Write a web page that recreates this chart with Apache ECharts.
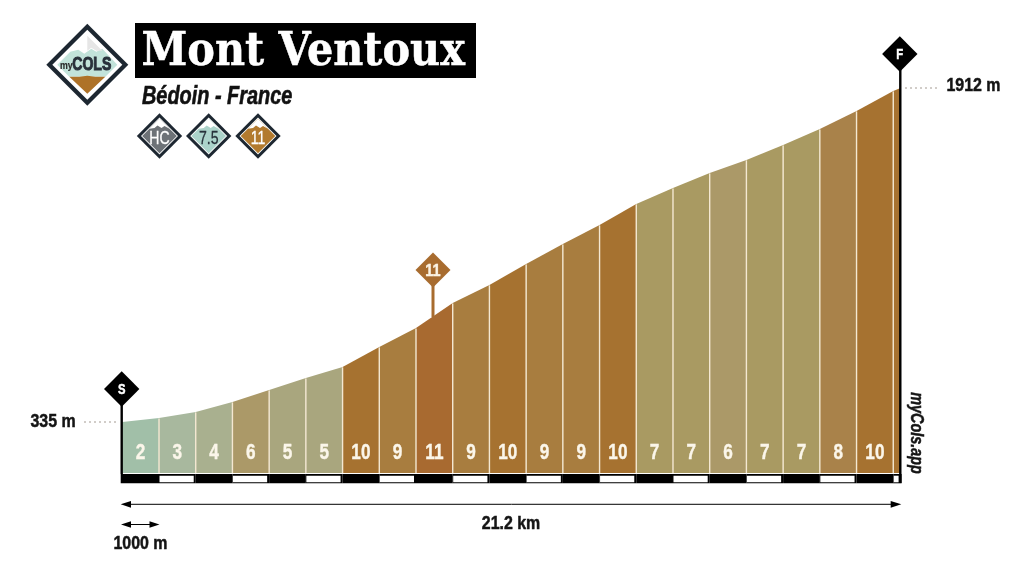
<!DOCTYPE html>
<html><head><meta charset="utf-8">
<style>html,body{margin:0;padding:0;background:#fff}#c{width:1024px;height:576px}</style>
<script src="https://cdn.jsdelivr.net/npm/echarts@6/dist/echarts.min.js"></script>
</head><body><div id="c"></div>
<script>
const title = 'Mont Ventoux';
const subtitle = 'Bédoin - France';
const kmMarks = [0,1,2,3,4,5,6,7,8,9,10,11,12,13,14,15,16,17,18,19,20,21,21.2];
const elevations = [335,354,382,429,486,543,595,689,779,897,982,1081,1175,1265,1364,1440,1511,1572,1643,1718,1803,1898,1912];
const gradients = [2,3,4,6,5,5,10,9,11,9,10,9,9,10,7,7,6,7,7,8,10,10];
const gradientLabels = ['2','3','4','6','5','5','10','9','11','9','10','9','9','10','7','7','6','7','7','8','10',''];
const badges = ['HC','7.5','11'];
const startLabel = '335 m', endLabel = '1912 m', distanceLabel = '21.2 km', unitLabel = '1000 m', brand = 'myCols.app';

const colorFor = {2:'#a1bfa8',3:'#a8b89e',4:'#a9b08f',5:'#a9a67e',6:'#ab9968',7:'#a99a62',8:'#a9824a',9:'#a87d3f',10:'#a67230',11:'#a86a30'};
const CREAM = '#f4e8d2', DARK = '#1d2731';
const SANS = '"Liberation Sans",sans-serif';

const segData = gradients.map((g,i)=>[kmMarks[i],kmMarks[i+1],elevations[i],elevations[i+1],g]);
const yMin = 94, yMax = 1994;

function diamond(cx,cy,r,fill,z){return {type:'polygon',z:z||10,shape:{points:[[cx,cy-r],[cx+r,cy],[cx,cy+r],[cx-r,cy]]},style:{fill}};}
function txt(x,y,text,size,fill,o){o=o||{};const sw=o.heavy===undefined?0.5:o.heavy;return {type:'text',z:o.z||20,x,y,rotation:o.rotation||0,scaleX:o.scaleX||1,
  style:{text,fill,stroke:sw?fill:null,lineWidth:sw,font:(o.style||'normal')+' '+(o.weight||'bold')+' '+size+'px '+(o.family||SANS),textAlign:o.align||'center',textVerticalAlign:'middle'}};}
function line(x1,y1,x2,y2,stroke,w,dash){return {type:'line',z:8,shape:{x1,y1,x2,y2},style:{stroke,lineWidth:w,lineDash:dash||null}};}
function tri(pts,fill){return {type:'polygon',z:9,shape:{points:pts},style:{fill}};}

function badge(cx,cy,label,fill,tc){
  return [diamond(cx,cy,22.7,DARK,10),diamond(cx,cy,18.5,'#ffffff',11),diamond(cx,cy,17.3,fill,12),
    {type:'polygon',z:13,shape:{points:[[cx,cy-17.3],[cx+10,cy-7.3],[cx+5,cy-10],[cx+2,cy-8],[cx-2,cy-10.5],[cx-5,cy-8],[cx-10,cy-7.3]]},style:{fill:'#ffffff'}},
    txt(cx,cy+2.5,label,19,tc,{scaleX:.74,weight:'normal',heavy:.3})];
}
function logo(){
  const cx=87.3,cy=64.7;
  return [diamond(cx,cy,41,DARK,10),diamond(cx,cy,35,'#ffffff',11),
    {type:'polygon',z:12,shape:{points:[[cx-30,cy],[cx-17,cy-13],[cx-9,cy-15],[cx-3,cy-11],[cx+4,cy-16],[cx+9,cy-13],[cx+15,cy-16],[cx+30,cy],[cx+18,cy+12],[cx-18,cy+12]]},style:{fill:'#c2e3da'}},
    {type:'polygon',z:13,shape:{points:[[cx,cy-29],[cx+15,cy-14],[cx+9,cy-14],[cx+4,cy-17],[cx,cy-14]]},style:{fill:'#e6e6e6'}},
    {type:'polygon',z:13,shape:{points:[[cx-18,cy+12],[cx-8,cy+12],[cx,cy+11],[cx+8,cy+12],[cx+18,cy+12],[cx,cy+29]]},style:{fill:'#ae7228'}},
    txt(cx-21,cy+1,'my',11,'#2a2a2a',{scaleX:.8,heavy:.2}),
    txt(cx+4.5,cy+.5,'COLS',19,'#28303a',{scaleX:.74,heavy:1})];
}

const graphics = [].concat(
  logo(),
  [{type:'rect',z:10,shape:{x:135,y:23,width:341,height:55},style:{fill:'#000'}},
   txt(141.5,53,title,46,'#ffffff',{family:'"DejaVu Serif",serif',align:'left',scaleX:.9,heavy:.5}),
   txt(142,96.5,subtitle,25.5,'#111',{style:'italic',align:'left',scaleX:.78,heavy:.6})],
  badge(159.5,136,badges[0],'#6d7277','#fff'),badge(208.7,136,badges[1],'#abd3ca','#27313a'),badge(258,136,badges[2],'#b27a2e','#fff'),
  [line(121.7,390,121.7,474,'#000',2.4),diamond(121.7,389,17.7,'#000'),txt(121.7,390,'S',15,'#fff',{scaleX:.75}),
   line(900.3,54,900.3,483,'#000',2.4),diamond(899.8,54,17.7,'#000'),txt(899.8,55,'F',15,'#fff',{scaleX:.75}),
   line(84,422,118,422,'#a39a92',1,[2,3]),line(905,88,938,88,'#a39a92',1,[2,3]),
   txt(53,422.2,startLabel,18.5,'#141414',{scaleX:.86}),txt(973.5,86,endLabel,18.5,'#141414',{scaleX:.86}),
   line(433,280,433,317,'#a86c2f',3),diamond(433,270,17.5,'#a86c2f'),txt(433,271,'11',17,'#fbf3e4',{scaleX:.85}),
   txt(916,433,brand,18,'#141414',{style:'italic',rotation:-Math.PI/2,scaleX:.8}),
   line(125,504.3,898,504.3,'#000',1),tri([[120.7,504.3],[131,500.9],[131,507.7]],'#000'),tri([[901.3,504.3],[890.7,500.9],[890.7,507.7]],'#000'),
   line(125,524.5,155,524.5,'#000',1),tri([[121,524.5],[131,521.2],[131,527.8]],'#000'),tri([[159.5,524.5],[149.5,521.2],[149.5,527.8]],'#000'),
   txt(511,524,distanceLabel,18.5,'#141414',{scaleX:.86}),txt(140.5,544,unitLabel,18.5,'#141414',{scaleX:.86})]
);

const chart = echarts.init(document.getElementById('c'),null,{renderer:'canvas'});
chart.setOption({
  animation:false,backgroundColor:'#fff',
  grid:{left:122.3,right:123.4,top:70.6,bottom:103},
  xAxis:{type:'value',min:0,max:21.2,show:false},
  yAxis:{type:'value',min:yMin,max:yMax,show:false,scale:true},
  graphic:{elements:graphics},
  series:[{
    type:'custom',silent:true,clip:false,
    encode:{x:[0,1],y:[2,3]},
    data:segData,
    renderItem(params,api){
      const i=params.dataIndex;
      const x0=api.value(0),x1=api.value(1),a=api.value(2),b=api.value(3),g=api.value(4);
      const lab=gradientLabels[i];
      const p0=api.coord([x0,yMin]),p1=api.coord([x1,yMin]),t0=api.coord([x0,a]),t1=api.coord([x1,b]);
      const kids=[{type:'polygon',shape:{points:[p0,p1,t1,t0]},style:{fill:colorFor[g]}}];
      if(i>0) kids.push({type:'line',shape:{x1:t0[0],y1:t0[1]+0.5,x2:p0[0],y2:p0[1]},style:{stroke:CREAM,lineWidth:1.4}});
      kids.push({type:'rect',shape:{x:p0[0]-(i===0?1.6:0),y:p0[1]+1,width:p1[0]-p0[0]+(i===0?1.6:0)+(i===gradients.length-1?1:0),height:9.3},style:{fill:'#000'}});
      if(i%2===1) kids.push({type:'rect',shape:{x:p0[0]+0.5,y:p0[1]+2.7,width:p1[0]-p0[0]-2.5,height:6.6},style:{fill:'#fff'}});
      if(lab) kids.push({type:'text',x:(p0[0]+p1[0])/2,y:p0[1]-20,scaleX:.8,style:{text:lab,fill:'#fbf6ea',stroke:'#fbf6ea',lineWidth:.4,font:'bold 21.5px '+SANS,textAlign:'center',textVerticalAlign:'middle'}});
      return {type:'group',children:kids};
    }
  }]
});
</script></body></html>
